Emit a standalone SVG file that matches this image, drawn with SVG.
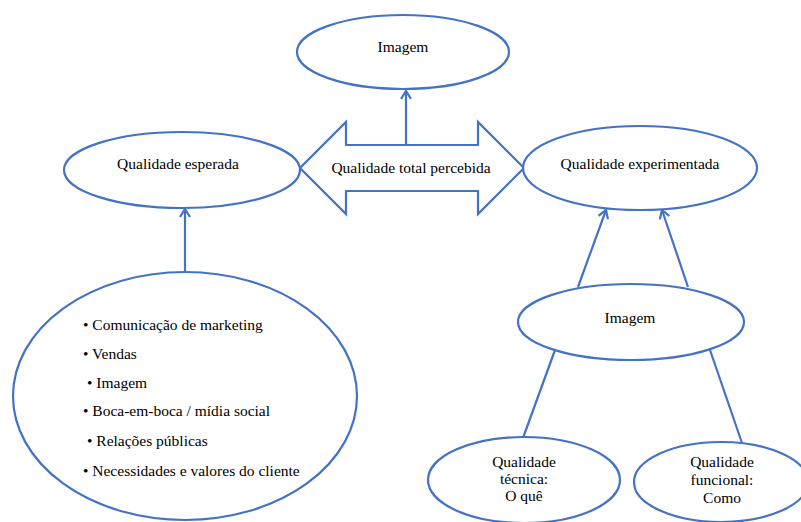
<svg xmlns="http://www.w3.org/2000/svg" width="801" height="522" viewBox="0 0 801 522">
<defs>
<style>
.n{fill:#fff;stroke:#4472C4;stroke-width:2.2}
.c{fill:none;stroke:#4472C4;stroke-width:2.2}
.m{text-anchor:middle}
</style>
<marker id="ah" viewBox="0 0 10 12" refX="9" refY="6" markerWidth="10" markerHeight="12" markerUnits="userSpaceOnUse" orient="auto">
<path d="M1,1 L9,6 L1,11" fill="none" stroke="#4472C4" stroke-width="2.2"/>
</marker>
</defs>
<rect width="801" height="522" fill="#fff"/>
<g id="connectors">
<line class="c" x1="406" y1="145" x2="406" y2="91" marker-end="url(#ah)"/>
<line class="c" x1="185" y1="273" x2="185" y2="209" marker-end="url(#ah)"/>
<line class="c" x1="578" y1="287" x2="606" y2="210" marker-end="url(#ah)"/>
<line class="c" x1="688" y1="287" x2="662" y2="210" marker-end="url(#ah)"/>
<line class="c" x1="555" y1="350" x2="523" y2="438"/>
<line class="c" x1="710" y1="350" x2="742" y2="443"/>
</g>
<g font-family="Liberation Serif" font-size="15.5" fill="#000">
<g id="imagem-top">
<ellipse class="n" cx="403" cy="52" rx="106" ry="37"/>
<text class="m" x="403" y="52">Imagem</text>
</g>
<g id="qualidade-total">
<path class="n" d="M300,168 L346,122 L346,145 L478,145 L478,122 L524,168 L478,214 L478,191 L346,191 L346,214 Z"/>
<text class="m" x="411" y="173">Qualidade total percebida</text>
</g>
<g id="qualidade-esperada">
<ellipse class="n" cx="182" cy="170" rx="118" ry="38"/>
<text class="m" x="178" y="169">Qualidade esperada</text>
</g>
<g id="qualidade-experimentada">
<ellipse class="n" cx="640" cy="168" rx="117" ry="42"/>
<text class="m" x="640" y="169">Qualidade experimentada</text>
</g>
<g id="fatores">
<ellipse class="n" cx="185" cy="396" rx="172" ry="124"/>
<text x="83" y="330">• Comunicação de marketing</text>
<text x="83" y="359">• Vendas</text>
<text x="87" y="388">• Imagem</text>
<text x="83" y="416">• Boca-em-boca / mídia social</text>
<text x="87" y="446">• Relações públicas</text>
<text x="83" y="476">• Necessidades e valores do cliente</text>
</g>
<g id="imagem-mid">
<ellipse class="n" cx="631" cy="322" rx="113" ry="38"/>
<text class="m" x="630" y="323">Imagem</text>
</g>
<g id="qualidade-tecnica">
<ellipse class="n" cx="524" cy="480" rx="96" ry="43"/>
<text class="m" x="524" y="467">Qualidade</text>
<text class="m" x="524" y="484">técnica:</text>
<text class="m" x="524" y="501">O quê</text>
</g>
<g id="qualidade-funcional">
<ellipse class="n" cx="721" cy="482" rx="87" ry="40"/>
<text class="m" x="722" y="467">Qualidade</text>
<text class="m" x="722" y="485">funcional:</text>
<text class="m" x="722" y="503">Como</text>
</g>
</g>
</svg>
